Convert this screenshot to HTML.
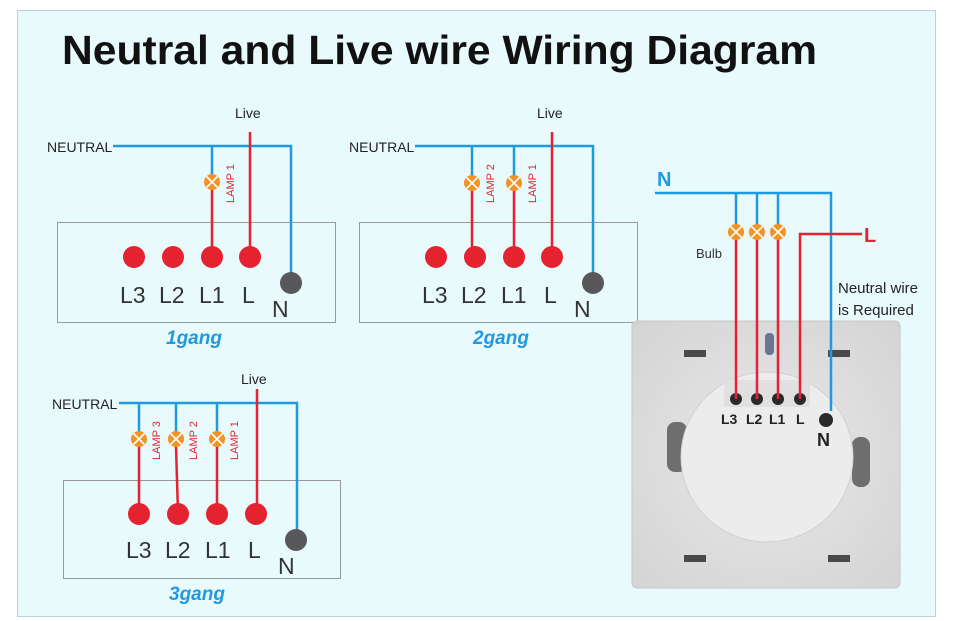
<!DOCTYPE html>
<html><head><meta charset="utf-8"><style>
html,body{margin:0;padding:0;background:#fff;}
svg{display:block;font-family:"Liberation Sans",sans-serif;}
</style></head><body>
<svg width="960" height="621" viewBox="0 0 960 621" xmlns="http://www.w3.org/2000/svg">
<defs>
<g id="lamp"><circle r="8" fill="#f39325"/><path d="M-5.5,-5.5L5.5,5.5M5.5,-5.5L-5.5,5.5" stroke="#fff" stroke-width="1.6"/></g>
<radialGradient id="plate" cx="0.5" cy="0.5" r="0.7"><stop offset="0" stop-color="#e8e8e8"/><stop offset="1" stop-color="#d4d4d4"/></radialGradient>
</defs>
<rect x="0" y="0" width="960" height="621" fill="#fff"/>
<rect x="17.5" y="10.5" width="918" height="606" fill="#e9fafd" stroke="#b9d3d8"/>
<text x="62" y="64" font-size="41" font-weight="bold" fill="#111" textLength="755" lengthAdjust="spacingAndGlyphs">Neutral and Live wire Wiring Diagram</text>

<g stroke-width="2.5" fill="none">
<rect x="57.5" y="222.5" width="278" height="100" stroke="#999" stroke-width="1" fill="none"/>
<polyline points="113,146 291,146 291,275" stroke="#1e9be0"/>
<line x1="212" y1="146" x2="212" y2="175" stroke="#1e9be0"/>
<line x1="212" y1="188" x2="212" y2="257" stroke="#e42230"/>
<line x1="250" y1="132" x2="250" y2="257" stroke="#e42230"/>
<rect x="359.5" y="222.5" width="278" height="100" stroke="#999" stroke-width="1" fill="none"/>
<polyline points="415,146 593,146 593,275" stroke="#1e9be0"/>
<line x1="472" y1="146" x2="472" y2="176" stroke="#1e9be0"/>
<line x1="514" y1="146" x2="514" y2="176" stroke="#1e9be0"/>
<line x1="472" y1="190" x2="472" y2="257" stroke="#e42230"/>
<line x1="514" y1="190" x2="514" y2="257" stroke="#e42230"/>
<line x1="552" y1="132" x2="552" y2="257" stroke="#e42230"/>
<rect x="63.5" y="480.5" width="277" height="98" stroke="#999" stroke-width="1" fill="none"/>
<polyline points="119,403 297,403 297,532" stroke="#1e9be0"/>
<line x1="139" y1="403" x2="139" y2="432" stroke="#1e9be0"/>
<line x1="176" y1="403" x2="176" y2="432" stroke="#1e9be0"/>
<line x1="217" y1="403" x2="217" y2="432" stroke="#1e9be0"/>
<line x1="139" y1="446" x2="139" y2="514" stroke="#e42230"/>
<line x1="176" y1="446" x2="178" y2="514" stroke="#e42230"/>
<line x1="217" y1="446" x2="217" y2="514" stroke="#e42230"/>
<line x1="257" y1="389" x2="257" y2="514" stroke="#e42230"/>
</g>

<g fill="#e42230">
<circle cx="134" cy="257" r="11"/><circle cx="173" cy="257" r="11"/><circle cx="212" cy="257" r="11"/><circle cx="250" cy="257" r="11"/>
<circle cx="436" cy="257" r="11"/><circle cx="475" cy="257" r="11"/><circle cx="514" cy="257" r="11"/><circle cx="552" cy="257" r="11"/>
<circle cx="139" cy="514" r="11"/><circle cx="178" cy="514" r="11"/><circle cx="217" cy="514" r="11"/><circle cx="256" cy="514" r="11"/>
</g>
<g fill="#58585a">
<circle cx="291" cy="283" r="11"/><circle cx="593" cy="283" r="11"/><circle cx="296" cy="540" r="11"/>
</g>
<use href="#lamp" x="212" y="182"/>
<use href="#lamp" x="472" y="183"/><use href="#lamp" x="514" y="183"/>
<use href="#lamp" x="139" y="439"/><use href="#lamp" x="176" y="439"/><use href="#lamp" x="217" y="439"/>

<g font-size="14" fill="#222">
<text x="47" y="152">NEUTRAL</text><text x="235" y="118">Live</text>
<text x="349" y="152">NEUTRAL</text><text x="537" y="118">Live</text>
<text x="52" y="409">NEUTRAL</text><text x="241" y="384">Live</text>
</g>
<g font-size="11" fill="#e42230">
<text transform="translate(234,203) rotate(-90)">LAMP 1</text>
<text transform="translate(494,203) rotate(-90)">LAMP 2</text>
<text transform="translate(536,203) rotate(-90)">LAMP 1</text>
<text transform="translate(160,460) rotate(-90)">LAMP 3</text>
<text transform="translate(197,460) rotate(-90)">LAMP 2</text>
<text transform="translate(238,460) rotate(-90)">LAMP 1</text>
</g>
<g font-size="23" fill="#333">
<text x="120" y="303">L3</text><text x="159" y="303">L2</text><text x="199" y="303">L1</text><text x="242" y="303">L</text><text x="272" y="317">N</text>
<text x="422" y="303">L3</text><text x="461" y="303">L2</text><text x="501" y="303">L1</text><text x="544" y="303">L</text><text x="574" y="317">N</text>
<text x="126" y="558">L3</text><text x="165" y="558">L2</text><text x="205" y="558">L1</text><text x="248" y="558">L</text><text x="278" y="574">N</text>
</g>
<g font-size="19" font-weight="bold" font-style="italic" fill="#1e9be0">
<text x="166" y="344">1gang</text><text x="473" y="344">2gang</text><text x="169" y="600">3gang</text>
</g>

<rect x="632" y="321" width="268" height="267" rx="5" fill="url(#plate)" stroke="#c8c8c8"/>
<g fill="#4a4a4a">
<rect x="684" y="350" width="22" height="7"/><rect x="828" y="350" width="22" height="7"/>
<rect x="684" y="555" width="22" height="7"/><rect x="828" y="555" width="22" height="7"/>
</g>
<rect x="765" y="333" width="9" height="22" rx="4" fill="#6a7590"/>
<rect x="667" y="422" width="20" height="50" rx="8" fill="#6e6e6e"/>
<rect x="852" y="437" width="18" height="50" rx="8" fill="#6e6e6e"/>
<ellipse cx="767" cy="457" rx="86" ry="85" fill="#ececec" stroke="#d0d0d0"/>
<rect x="724" y="380" width="86" height="27" fill="#e0e0e0"/>
<g fill="#2a2a2a">
<circle cx="736" cy="399" r="6"/><circle cx="757" cy="399" r="6"/><circle cx="778" cy="399" r="6"/><circle cx="800" cy="399" r="6"/>
<circle cx="826" cy="420" r="7"/>
</g>
<g stroke-width="2.5" fill="none">
<polyline points="655,193 831,193 831,411" stroke="#1e9be0"/>
<line x1="736" y1="193" x2="736" y2="225" stroke="#1e9be0"/>
<line x1="757" y1="193" x2="757" y2="225" stroke="#1e9be0"/>
<line x1="778" y1="193" x2="778" y2="225" stroke="#1e9be0"/>
<line x1="736" y1="239" x2="736" y2="399" stroke="#e42230"/>
<line x1="757" y1="239" x2="757" y2="399" stroke="#e42230"/>
<line x1="778" y1="239" x2="778" y2="399" stroke="#e42230"/>
<polyline points="800,399 800,234 862,234" stroke="#e42230"/>
</g>
<use href="#lamp" x="736" y="232"/><use href="#lamp" x="757" y="232"/><use href="#lamp" x="778" y="232"/>
<text x="657" y="186" font-size="20" font-weight="bold" fill="#1e9be0">N</text>
<text x="864" y="242" font-size="20" font-weight="bold" fill="#e42230">L</text>
<text x="696" y="258" font-size="13" fill="#333">Bulb</text>
<text x="838" y="293" font-size="15" fill="#222">Neutral wire</text>
<text x="838" y="315" font-size="15" fill="#222">is Required</text>
<g font-size="14" font-weight="bold" fill="#222">
<text x="721" y="424">L3</text><text x="746" y="424">L2</text><text x="769" y="424">L1</text><text x="796" y="424">L</text>
</g>
<text x="817" y="446" font-size="18" font-weight="bold" fill="#222">N</text>
</svg>
</body></html>
